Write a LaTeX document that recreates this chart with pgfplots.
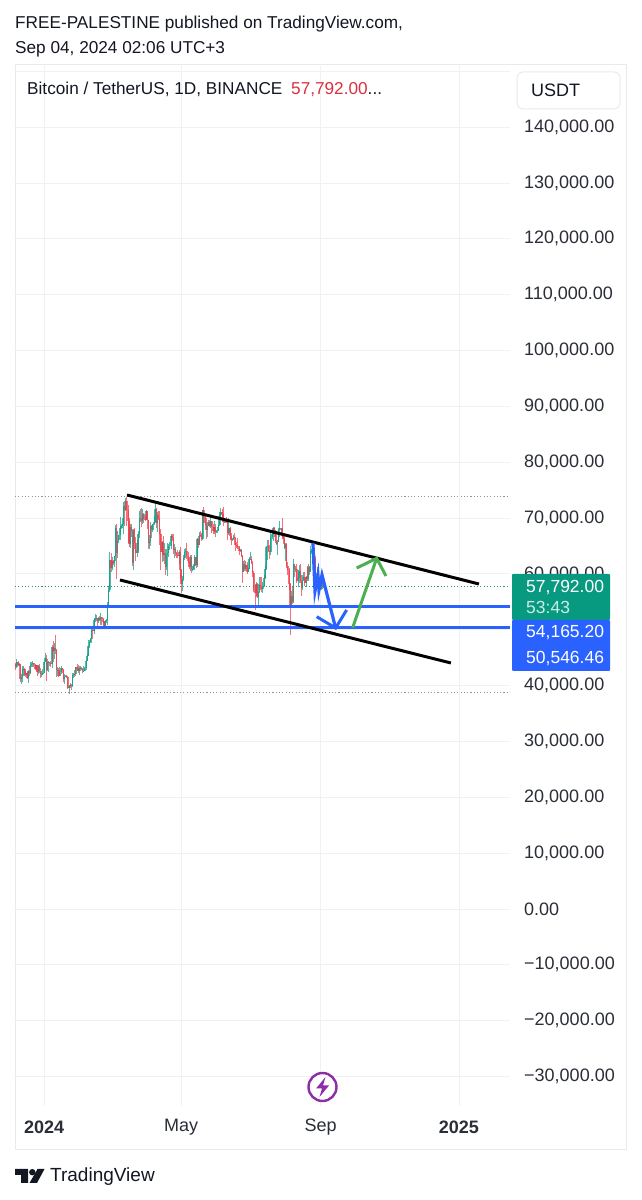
\documentclass[border=0pt]{standalone}
\usepackage{fontspec}
\setmainfont{Liberation Sans}
\usepackage{pgfplots}
\usepackage{pgfplotstable}
\pgfplotsset{compat=1.18}
\definecolor{tvup}{HTML}{089981}
\definecolor{tvdown}{HTML}{F23645}
\definecolor{tvblue}{HTML}{2962FF}
\definecolor{tvgreen}{HTML}{4CAF50}
\definecolor{tvgrid}{HTML}{F0F1F4}
\definecolor{tvframe}{HTML}{E9EAEE}
\definecolor{tvtext}{HTML}{131722}
\definecolor{tvpurple}{HTML}{8E2DA8}
\pgfplotstableread{
d o h l c
-25 43790 44050 42820 43290
-24 43290 44700 43080 44180
-23 44180 44370 43580 43720
-22 43720 44040 43560 43790
-21 43790 43840 40660 41240
-20 41240 42100 40220 41450
-19 41450 43430 40680 42890
-18 42890 43420 41800 43020
-17 43020 43080 41670 41940
-16 41940 42700 41600 42280
-15 42280 42430 41250 41370
-14 41370 42760 40550 42660
-13 42660 43500 41800 42270
-12 42270 44280 42120 43650
-11 43650 44240 43300 43860
-10 43860 44400 43400 43990
-9 43990 44020 43300 43730
-8 43730 43950 42760 43010
-7 43010 43680 42700 43600
-6 43600 43600 41640 42520
-5 42520 43680 42100 43440
-4 43440 43800 42300 42580
-3 42580 43120 41300 42070
-2 42070 42600 41520 42140
-1 42140 42900 41960 42280
0 42280 44180 42180 44180
1 44180 45880 44150 44950
2 44950 45500 40750 42850
3 42850 44730 42620 44150
4 44150 44350 42450 44160
5 44160 44200 43420 43970
6 43970 44480 43400 43930
7 43930 47250 43200 46970
8 46970 47900 44300 46120
9 46120 47700 44750 46650
10 46650 49000 45600 46340
11 46340 46500 41500 42780
12 42780 43260 41720 42850
13 42850 43100 41720 41730
14 41730 43400 41720 42510
15 42510 43580 42050 43140
16 43140 43200 42200 42770
17 42770 42930 40680 41260
18 41260 42130 40280 41620
19 41620 41870 41450 41670
20 41670 41860 41400 41550
21 41550 41680 39430 39510
22 39510 40130 38500 39890
23 39890 40550 39490 40080
24 40080 40300 39260 39930
25 39930 42230 39820 41820
26 41820 42200 41400 42120
27 42120 42840 41620 42030
28 42030 43320 41800 43300
29 43300 43880 42680 42940
30 42940 43750 42270 42580
31 42580 43420 41880 43080
32 43080 43480 42580 43190
33 43190 43380 42880 43000
34 43000 43120 42250 42580
35 42580 43500 42580 42660
36 42660 43380 42560 43090
37 43090 44500 42790 44340
38 44340 45600 44340 45290
39 45290 48200 45240 47130
40 47130 48150 46800 47750
41 47750 48590 47550 48290
42 48290 50330 47700 49920
43 49920 50370 48300 49700
44 49700 52020 49250 51800
45 51800 52820 51320 51910
46 51910 52570 51600 52130
47 52130 52170 50620 51640
48 51640 52350 51170 52120
49 52120 52480 51500 51780
50 51780 52980 50780 52260
51 52260 52370 50820 51850
52 51850 52090 50900 51300
53 51300 51550 50500 50730
54 50730 51680 50580 51570
55 51570 52000 51280 51730
56 51730 54940 50900 54480
57 54480 57590 54450 57040
58 57040 64000 56700 62500
59 62500 63680 60360 61130
60 61130 63110 60780 62390
61 62390 62480 61600 61990
62 61990 63230 61300 63120
63 63120 68730 62350 68240
64 68240 69000 59000 63800
65 63800 67640 62800 66070
66 66070 67000 65550 66920
67 66920 70130 66100 68300
68 68300 69000 68000 68500
69 68500 70000 68240 69020
70 69020 72850 67100 72120
71 72120 73000 68620 71470
72 71470 73650 71330 73070
73 73070 73780 68500 71390
74 71390 72420 65600 69500
75 69500 70000 64780 65300
76 65300 68900 64550 68390
77 68390 68950 66550 67610
78 67610 68100 61500 61930
79 61930 68100 60780 67840
80 67840 68200 64500 65500
81 65500 66650 62300 63800
82 63800 65980 63000 64040
83 64040 67620 63800 67210
84 67210 71200 66380 69880
85 69880 71560 69280 69990
86 69990 71780 68370 69450
87 69450 71650 68900 70780
88 70780 70900 69100 69890
89 69890 70360 69570 69650
90 69650 71370 69560 71330
91 71330 71340 68100 69650
92 69650 69700 64500 65460
93 65460 66900 64500 65970
94 65970 69300 65060 68490
95 68490 68720 66500 67830
96 67830 69000 67450 68900
97 68900 70300 68750 69360
98 69360 72800 69040 71620
99 71620 71760 68200 69140
100 69140 71170 67500 70590
101 70590 71250 69560 70060
102 70060 71230 65100 67190
103 67190 68000 60660 63920
104 63920 65840 62130 65660
105 65660 66870 62300 63420
106 63420 65450 61700 63790
107 63790 64500 59770 61280
108 61280 64500 60780 63470
109 63470 65450 59600 63820
110 63820 65400 63100 64940
111 64940 65700 64280 64940
112 64940 67230 64500 66840
113 66840 67200 65800 66410
114 66410 67080 63600 64280
115 64280 65300 62800 64500
116 64500 64800 63250 63770
117 63770 64000 62800 63460
118 63460 64350 62800 63120
119 63120 64230 61800 63840
120 63840 64730 59100 60670
121 60670 60800 56550 58250
122 58250 59600 56940 59120
123 59120 63300 58800 62890
124 62890 64500 62500 63890
125 63890 64650 62900 64030
126 64030 65500 62700 63160
127 63160 63850 62000 62330
128 62330 62950 60800 61190
129 61190 63450 60600 63070
130 63070 63450 60200 60790
131 60790 61500 60500 60820
132 60820 61800 60620 61480
133 61480 63450 60750 62940
134 62940 63100 61120 61580
135 61580 66450 61300 66250
136 66250 66700 64600 65230
137 65230 67450 65100 67050
138 67050 67700 66600 66940
139 66940 67400 65800 66270
140 66270 71500 66050 71450
141 71450 71980 69150 70140
142 70140 70650 68800 69120
143 69120 70050 66300 67930
144 67930 69220 66600 68530
145 68530 69580 68530 69290
146 69290 69560 68400 68510
147 68510 70600 68230 69430
148 69430 69550 67250 68370
149 68370 68900 67100 67630
150 67630 69500 67130 68360
151 68360 69000 66600 67530
152 67530 67900 67300 67760
153 67760 68450 67260 67760
154 67760 70300 67600 68810
155 68810 71060 68550 70560
156 70560 71780 70370 71080
157 71080 71620 70100 70790
158 70790 71980 68500 69360
159 69360 69560 69200 69310
160 69310 69880 69100 69650
161 69650 70200 69200 69510
162 69510 69570 66060 67320
163 67320 70000 66900 68240
164 68240 68400 66300 66750
165 66750 67300 65100 66010
166 66010 66400 65900 66190
167 66190 66940 66020 66640
168 66640 67280 65100 66490
169 66490 66580 64060 65170
170 65170 65700 64700 64960
171 64960 66500 64500 64830
172 64830 65050 63400 64100
173 64100 64520 63950 64250
174 64250 64500 63200 63180
175 63180 63370 58400 60280
176 60280 62380 60280 61800
177 61800 62500 60430 60860
178 60860 62300 60570 61670
179 61670 62200 60000 60320
180 60320 61130 60300 60930
181 60930 63000 60800 62670
182 62670 63870 62540 62750
183 62750 63290 61800 62020
184 62020 62280 59500 60200
185 60200 60430 56770 57050
186 57050 58000 53500 56630
187 56630 58480 56000 58230
188 58230 58400 55730 55850
189 55850 58230 54260 56710
190 56710 59450 56550 58050
191 58050 59500 57150 57720
192 57720 59400 56700 57340
193 57340 58530 56500 57890
194 57890 59820 57720 59200
195 59200 61400 59000 60790
196 60790 65000 60650 64870
197 64870 66100 62400 65040
198 65040 66150 63900 64090
199 64090 65100 62700 63990
200 63990 67450 63300 66660
201 66660 67650 66250 67150
202 67150 68380 65800 68160
203 68160 68480 66600 67530
204 67530 67800 65450 65930
205 65930 67100 65100 65370
206 65370 66130 63400 65770
207 65770 68150 65750 67900
208 67900 69400 66650 68250
209 68250 68300 67050 68250
210 68250 70000 66500 66780
211 66780 67000 65300 66190
212 66190 66800 64530 64620
213 64620 65600 62300 65350
214 65350 65500 61100 61480
215 61480 62150 59850 60700
216 60700 61120 57100 58110
217 58110 58300 49000 53990
218 53990 57000 53900 56030
219 56030 57800 54550 55030
220 55030 62700 54750 61710
221 61710 61800 59500 60880
222 60880 61450 60300 60940
223 60940 61850 58300 58710
224 58710 60700 57650 59350
225 59350 61580 58400 60600
226 60600 61800 58450 58740
227 58740 59850 56100 57560
228 57560 59850 57100 58870
229 58870 60250 58800 59490
230 59490 60300 57800 58430
231 58430 59620 57900 59450
232 59450 61400 58800 59020
233 59020 61800 58800 61160
234 61160 61400 59800 60380
235 60380 64950 60350 64040
236 64040 64500 63600 64160
237 64160 65000 63800 64250
238 64250 64480 62800 62880
239 62880 63200 58100 59500
240 59500 60200 57850 59020
241 59020 61200 58700 59360
242 59360 60200 57750 59120
243 59120 59200 57650 58970
244 58970 59000 57200 57300
245 57300 59800 57150 59130
246 59130 59800 57500 57792
}\candles
\pgfplotsset{
  wick/.style={forget plot, draw=none, mark=none,
    error bars/.cd, y dir=both, y explicit, error mark=none,
    error bar style={line width=0.8pt, color=#1, opacity=0.7}},
  body/.style={forget plot, draw=none, mark=none,
    error bars/.cd, y dir=both, y explicit, error mark=none,
    error bar style={line width=1.5pt, color=#1, opacity=0.7}},
}
\begin{document}
\begin{tikzpicture}[x=1pt,y=1pt]
\path[use as bounding box] (0,0) rectangle (641,1200);
\fill[white] (0,0) rectangle (641,1200);
\draw[tvframe, line width=1pt] (15,50) rectangle (626,1135);
\begin{axis}[
  at={(15pt,94pt)}, anchor=south west,
  scale only axis, width=495pt, height=1040pt,
  xmin=-25.6, xmax=411, ymin=-35273, ymax=150939,
  axis line style={draw=none},
  unbounded coords=discard,
  major tick length=0pt,
  scaled y ticks=false,
  grid=major, major grid style={tvgrid, line width=0.8pt},
  xtick={0,121,244,366},
  xticklabels={\textbf{2024},May,Sep,\textbf{2025}},
  ytick={-30000,-20000,-10000,0,10000,20000,30000,40000,50000,60000,70000,80000,90000,100000,110000,120000,130000,140000,150000},
  yticklabels={{−30,000.00},{−20,000.00},{−10,000.00},{0.00},{10,000.00},{20,000.00},{30,000.00},{40,000.00},{50,000.00},{60,000.00},{70,000.00},{80,000.00},{90,000.00},{100,000.00},{110,000.00},{120,000.00},{130,000.00},{140,000.00},{}},
  yticklabel pos=right,
  yticklabel style={anchor=west, inner sep=0pt, xshift=14pt, font=\fontsize{18}{18}\selectfont, text=tvtext!90},
  xticklabel style={anchor=center, yshift=-21pt, font=\fontsize{18}{18}\selectfont, text=tvtext!90},
]
% dotted range lines
\addplot[forget plot, gray!85, line width=1.1pt, dash pattern=on 1.1pt off 2.2pt] coordinates {(-25.6,73780) (411,73780)};
\addplot[forget plot, gray!85, line width=1.1pt, dash pattern=on 1.1pt off 2.2pt] coordinates {(-25.6,38700) (411,38700)};
\addplot[forget plot, tvup!70!gray, line width=1.1pt, dash pattern=on 1.1pt off 2.2pt] coordinates {(-25.6,57792) (411,57792)};
% candles: wicks and bodies, rising
\addplot[wick=tvup] table[x expr={\thisrow{c}>=\thisrow{o} ? \thisrow{d} : nan}, y=c,
  y error plus expr=\thisrow{h}-\thisrow{c}, y error minus expr=\thisrow{c}-\thisrow{l}] {\candles};
\addplot[body=tvup] table[x expr={\thisrow{c}>=\thisrow{o} ? \thisrow{d} : nan}, y=c,
  y error plus expr=0, y error minus expr=\thisrow{c}-\thisrow{o}] {\candles};
% falling
\addplot[wick=tvdown] table[x expr={\thisrow{c}<\thisrow{o} ? \thisrow{d} : nan}, y=c,
  y error plus expr=\thisrow{h}-\thisrow{c}, y error minus expr=\thisrow{c}-\thisrow{l}] {\candles};
\addplot[body=tvdown] table[x expr={\thisrow{c}<\thisrow{o} ? \thisrow{d} : nan}, y=c,
  y error plus expr=\thisrow{o}-\thisrow{c}, y error minus expr=0] {\candles};
% horizontal levels
\addplot[forget plot, tvblue, line width=3pt] coordinates {(-25.6,54080) (411,54080)};
\addplot[forget plot, tvblue, line width=3pt] coordinates {(-25.6,50450) (411,50450)};
% channel
\addplot[forget plot, black, line width=3pt] coordinates {(73.2,74127) (383.6,58191)};
\addplot[forget plot, black, line width=3pt] coordinates {(67.0,58907) (358.9,44046)};
% projected path
\addplot[forget plot, tvblue, line width=3.2pt, line join=miter] coordinates {(237.2,65532) (239.0,56938) (241.6,59803) (242.5,57117) (245.2,59803) (257.2,50313)};
\addplot[forget plot, tvblue, line width=3pt, line join=miter] coordinates {(240.5,52336) (257.2,50313) (266.9,53536)};
\addplot[forget plot, tvgreen, line width=3pt] coordinates {(272.2,50367) (293.4,62793)};
\addplot[forget plot, tvgreen, line width=3pt, line join=miter] coordinates {(275.8,61057) (293.4,62793) (301.6,59624)};
\end{axis}
% price labels
\fill[tvup, rounded corners=1pt] (512,580) rectangle (610,626);
\fill[tvblue, rounded corners=1pt] (512,529) rectangle (610,580);
\node[anchor=base west, inner sep=0pt, white, font=\fontsize{17.5}{18}\selectfont] at (526,607.5) {57,792.00};
\node[anchor=base west, inner sep=0pt, white!80!tvup, font=\fontsize{17.5}{18}\selectfont] at (526,586.5) {53:43};
\node[anchor=base west, inner sep=0pt, white, font=\fontsize{17.5}{18}\selectfont] at (526,562.5) {54,165.20};
\node[anchor=base west, inner sep=0pt, white, font=\fontsize{17.5}{18}\selectfont] at (526,536.5) {50,546.46};
% header
\node[anchor=base west, inner sep=0pt, tvtext, font=\fontsize{17.2}{18}\selectfont] at (15,1171) {FREE-PALESTINE published on TradingView.com,};
\node[anchor=base west, inner sep=0pt, tvtext, font=\fontsize{17.2}{18}\selectfont] at (15,1146) {Sep 04, 2024 02:06 UTC+3};
% legend
\node[anchor=base west, inner sep=0pt, tvtext, font=\fontsize{17.2}{18}\selectfont] at (27,1105) {Bitcoin / TetherUS, 1D, BINANCE};
\node[anchor=base west, inner sep=0pt, font=\fontsize{17.2}{18}\selectfont] at (291,1105) {\textcolor{tvdown!90!black}{57,792.00}\textcolor{tvtext}{...}};
% currency button
\draw[tvframe, fill=white, line width=1pt, rounded corners=6pt] (517,1091) rectangle (620,1128);
\node[anchor=base west, inner sep=0pt, tvtext, font=\fontsize{18}{18}\selectfont] at (531,1103) {USDT};
% lightning icon
\draw[tvpurple, line width=2.4pt, fill=white] (322.5,113) circle (14);
\fill[tvpurple] (325.5,123) -- (316,111.5) -- (322,111.5) -- (319.5,103) -- (329,114.5) -- (323,114.5) -- cycle;
% TradingView logo
\fill[tvtext] (15,31) -- (28,31) -- (28,17) -- (21,17) -- (21,25) -- (15,25) -- cycle;
\fill[tvtext] (32.3,27.8) circle (3.2);
\fill[tvtext] (37.5,31) -- (44.5,31) -- (37,17) -- (29.5,17) -- cycle;
\node[anchor=base west, inner sep=0pt, tvtext, font=\fontsize{19}{19}\selectfont] at (50,19) {TradingView};
\end{tikzpicture}
\end{document}
